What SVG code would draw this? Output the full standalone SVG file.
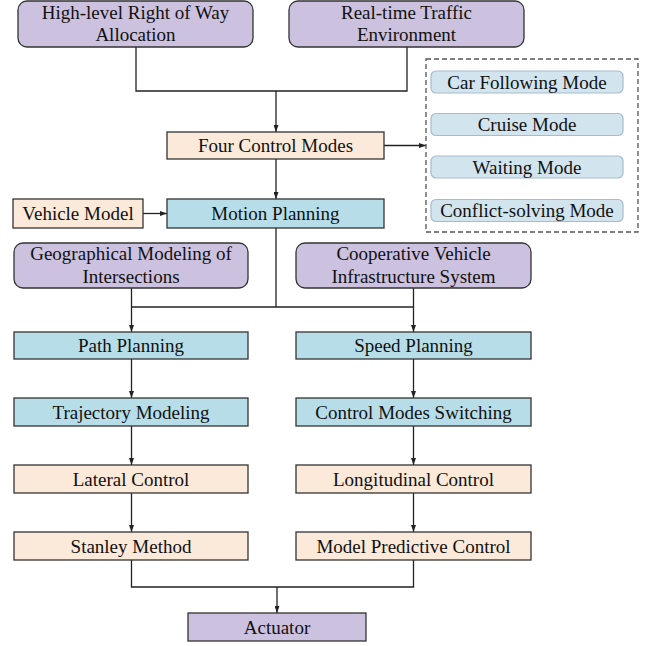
<svg xmlns="http://www.w3.org/2000/svg" width="646" height="646" viewBox="0 0 646 646">
<defs>
<marker id="ah" markerUnits="userSpaceOnUse" markerWidth="7" markerHeight="5" refX="7" refY="2.5" orient="auto">
<path d="M0,0 L7,2.5 L0,5 z" fill="#222"/>
</marker>
<style>
.pur{fill:#CCC1DF;stroke:#333;stroke-width:1.3}
.blu{fill:#B7DEE8;stroke:#333;stroke-width:1.3}
.pch{fill:#FBE9DA;stroke:#333;stroke-width:1.3}
.mod{fill:#D2E5EF;stroke:#A7BCCB;stroke-width:1.2}
.dash{fill:none;stroke:#555;stroke-width:1.3;stroke-dasharray:5,3}
text{font-family:'Liberation Serif','Times New Roman','DejaVu Serif',serif;font-size:19px;fill:#111;text-anchor:middle}
.c{fill:none;stroke:#222;stroke-width:1.3}
.a{fill:none;stroke:#222;stroke-width:1.3;marker-end:url(#ah)}
</style>
</defs>
<g id="connectors">
<path class="c" d="M136,47 V91 H407 V47"/>
<path class="a" d="M276,91 V132"/>
<path class="a" d="M276,159 V199"/>
<path class="a" d="M384,145.5 H426"/>
<path class="a" d="M143,213.5 H167"/>
<path class="c" d="M276,228 V307"/>
<path class="c" d="M131.5,307 H413.5"/>
<path class="a" d="M131.5,288 V332"/>
<path class="a" d="M413.5,288 V332"/>
<path class="a" d="M131.5,359 V398"/>
<path class="a" d="M413.5,359 V398"/>
<path class="a" d="M131.5,426 V465"/>
<path class="a" d="M413.5,426 V465"/>
<path class="a" d="M131.5,493 V532"/>
<path class="a" d="M413.5,493 V532"/>
<path class="c" d="M131.5,560 V587 H413.5 V560"/>
<path class="a" d="M277,587 V613"/>
</g>
<g font-family="Liberation Serif, serif">
<g id="n_highlevel"><rect class="pur" x="18" y="1" width="235" height="46" rx="9"/><text x="135.5" y="19">High-level Right of Way</text><text x="135.5" y="41">Allocation</text></g>
<g id="n_realtime"><rect class="pur" x="289" y="1" width="235" height="46" rx="9"/><text x="406.5" y="19">Real-time Traffic</text><text x="406.5" y="41">Environment</text></g>
<g id="n_fourmodes"><rect class="pch" x="167" y="132" width="217" height="27"/><text x="275.5" y="152">Four Control Modes</text></g>
<g id="n_modes">
<rect class="dash" x="426" y="59" width="212" height="173"/>
<g id="n_carfollow"><rect class="mod" x="431" y="71" width="192" height="22" rx="5"/><text x="527" y="88.5">Car Following Mode</text></g>
<g id="n_cruise"><rect class="mod" x="431" y="113.5" width="192" height="22" rx="5"/><text x="527" y="131">Cruise Mode</text></g>
<g id="n_waiting"><rect class="mod" x="431" y="156" width="192" height="22" rx="5"/><text x="527" y="173.5">Waiting Mode</text></g>
<g id="n_conflict"><rect class="mod" x="431" y="199.5" width="192" height="22" rx="5"/><text x="527" y="217">Conflict-solving Mode</text></g>
</g>
<g id="n_vehicle"><rect class="pch" x="13" y="199" width="130" height="29"/><text x="78" y="220">Vehicle Model</text></g>
<g id="n_motion"><rect class="blu" x="167" y="199" width="217" height="29"/><text x="275.5" y="220">Motion Planning</text></g>
<g id="n_geo"><rect class="pur" x="14" y="243" width="234" height="45" rx="9"/><text x="131" y="260">Geographical Modeling of</text><text x="131" y="282.5">Intersections</text></g>
<g id="n_cvis"><rect class="pur" x="296" y="243" width="235" height="45" rx="9"/><text x="413.5" y="260">Cooperative Vehicle</text><text x="413.5" y="282.5">Infrastructure System</text></g>
<g id="n_path"><rect class="blu" x="14" y="332" width="234" height="27"/><text x="131" y="352">Path Planning</text></g>
<g id="n_speed"><rect class="blu" x="296" y="332" width="235" height="27"/><text x="413.5" y="352">Speed Planning</text></g>
<g id="n_traj"><rect class="blu" x="14" y="398" width="234" height="28"/><text x="131" y="418.5">Trajectory Modeling</text></g>
<g id="n_cms"><rect class="blu" x="296" y="398" width="235" height="28"/><text x="413.5" y="418.5">Control Modes Switching</text></g>
<g id="n_lateral"><rect class="pch" x="14" y="465" width="234" height="28"/><text x="131" y="485.5">Lateral Control</text></g>
<g id="n_long"><rect class="pch" x="296" y="465" width="235" height="28"/><text x="413.5" y="485.5">Longitudinal Control</text></g>
<g id="n_stanley"><rect class="pch" x="14" y="532" width="234" height="28"/><text x="131" y="552.5">Stanley Method</text></g>
<g id="n_mpc"><rect class="pch" x="296" y="532" width="235" height="28"/><text x="413.5" y="552.5">Model Predictive Control</text></g>
<g id="n_actuator"><rect class="pur" x="188" y="613" width="178" height="28"/><text x="277" y="633.5">Actuator</text></g>
</g>
</svg>
